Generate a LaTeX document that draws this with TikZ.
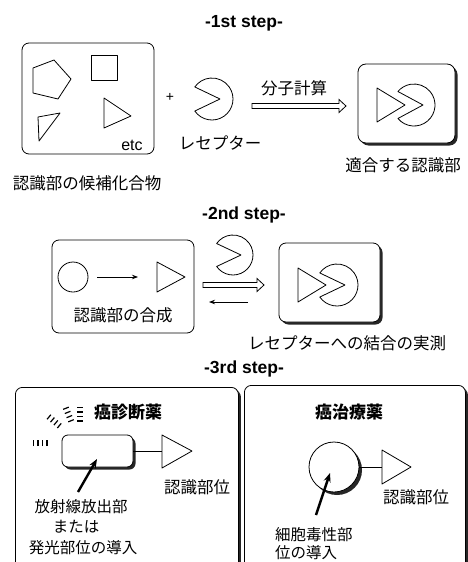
\documentclass[tikz,border=0pt]{standalone}
\usepackage{fontspec}
\setmainfont{Liberation Sans}
\newfontfamily\cjk{Noto Sans CJK JP}
\usetikzlibrary{calc,shadows,arrows.meta}

\tikzset{
 ol/.style={line width=0.8pt, line join=round},
 box/.style={draw, line width=0.8pt, rounded corners=7pt, fill=white, inner sep=0pt},
 sbox/.style={box, drop shadow={shadow xshift=2.5pt, shadow yshift=-2.5pt, fill=black, opacity=0.85}},
 ttl/.style={font=\fontsize{17.5}{17.5}\selectfont\bfseries, inner sep=0pt},
 jp/.style={font=\cjk\fontsize{16.5}{16.5}\selectfont, inner sep=0pt},
 jps/.style={font=\cjk\fontsize{15.5}{15.5}\selectfont, inner sep=0pt},
 jpb/.style={font=\cjk\bfseries\fontsize{17}{17}\selectfont, inner sep=0pt},
 thinarrow/.style={line width=0.8pt, -{Stealth[length=6pt,width=4.5pt]}},
 thickarrow/.style={line width=2.4pt, -{Stealth[length=9pt,width=7pt]}},
 hollow/.style={line width=0.8pt, line join=miter, fill=white},
 ray/.style={line width=1.2pt},
}

% pacman: center x, center y, radius, vertex offset, mouth angle
\newcommand\pacmanshape[5]{%
  \draw[ol, fill=white] (#1,#2) ++(#5:#3) arc[start angle=#5, end angle=-#5, radius=#3] -- (#1+#4,#2) -- cycle;}
\newcommand\hollowarrow[2]{%
  \draw[hollow] ($(#1)+(0,-2.5)$) -- ($(#2)+(-7,-2.5)$) -- ($(#2)+(-7,-6.5)$) -- (#2)
   -- ($(#2)+(-7,6.5)$) -- ($(#2)+(-7,2.5)$) -- ($(#1)+(0,2.5)$) -- cycle;}

\begin{document}
\begin{tikzpicture}[x=1pt,y=-1pt]
\clip (0,0) rectangle (468,562);
\fill[white] (0,0) rectangle (468,562);

%% ---------------- step 1
\node[ttl] (t1) at (244,23) {-1st step-};
\node[box, minimum width=132pt, minimum height=111pt] (cand) at (88,98.5) {};
\draw[ol] (33,68) -- (54,60) -- (71,79) -- (58,99) -- (33,93) -- cycle;
\draw[ol] (91,55) rectangle (117,80);
\draw[ol] (104,98) -- (131,116) -- (104,128) -- cycle;
\draw[ol] (38,117) -- (60,113) -- (39,141) -- cycle;
\node[font=\fontsize{16}{16}\selectfont, inner sep=0pt] (etc) at (132,145) {etc};
\node[font=\fontsize{14}{14}\selectfont, inner sep=0pt] (plus) at (170,97) {+};
\pacmanshape{212}{99}{21}{8}{145}
\node[jp] (rec1) at (220,143) {レセプター};
\node[jp] (candlbl) at (87,183) {認識部の候補化合物};
\node[jp] (calc1) at (294,88) {分子計算};
\coordinate (h1s) at (252,106);
\coordinate (h1e) at (346,106);
\hollowarrow{h1s}{h1e}
\node[sbox, rounded corners=8pt, minimum width=97pt, minimum height=79pt] (fit1) at (406.5,103.5) {};
\draw[ol] (377,88) -- (405,105) -- (377,122) -- cycle;
\pacmanshape{414}{105}{21}{9}{140}
\node[jp] (fitlbl) at (403,165) {適合する認識部};

%% ---------------- step 2
\node[ttl] (t2) at (244,215) {-2nd step-};
\node[box, minimum width=142pt, minimum height=93pt] (synth) at (123,286.5) {};
\node[draw, circle, ol, minimum size=30pt, inner sep=0pt] (c2) at (73,277) {};
\coordinate (tri2w) at (157,277);
\draw[ol] (157,262) -- (185,277) -- (157,292) -- cycle;
\draw[thinarrow, shorten <=9pt, shorten >=19pt] (c2.east) -- (tri2w);
\node[jp] (synthlbl) at (123,315) {認識部の合成};
\pacmanshape{233}{255}{20}{8}{145}
\coordinate (h2s) at (203,285);
\coordinate (h2e) at (264,285);
\hollowarrow{h2s}{h2e}
\coordinate (b2s) at (248,302);
\coordinate (b2e) at (209,302);
\draw[thinarrow] (b2s) -- (b2e);
\node[sbox, minimum width=101pt, minimum height=79pt] (meas) at (329.5,282.5) {};
\draw[ol] (298,268) -- (326,285) -- (298,302) -- cycle;
\pacmanshape{337}{285}{21}{8}{145}
\node[jp] (measlbl) at (347,343) {レセプターへの結合の実測};

%% ---------------- step 3
\node[ttl] (t3) at (244,369) {-3rd step-};
\node[sbox, anchor=north west, minimum width=223pt, minimum height=200pt] (diag) at (15,387) {};
\node[sbox, anchor=north west, minimum width=221pt, minimum height=200pt] (ther) at (244,385) {};

% diagnostic
\node[jpb] (diaglbl) at (128,412) {癌診断薬};
\foreach \ang/\a in {90/22, 112/24, 140/27, 180/33}{
  \foreach \k in {0,1,2,3}{
    \pgfmathsetmacro\dd{\a+\k*4.5}
    \draw[ray] ({80+\dd*cos(\ang)-3*sin(\ang)},{443-\dd*sin(\ang)-3*cos(\ang)})
            -- ({80+\dd*cos(\ang)+3*sin(\ang)},{443-\dd*sin(\ang)+3*cos(\ang)});
  }
}
\node[sbox, rounded corners=6pt, minimum width=71pt, minimum height=32pt] (emit) at (97.5,451) {};
\coordinate (tri3a) at (162,451);
\draw[ol] (emit.east) -- (tri3a);
\draw[ol] (162,435) -- (192,451) -- (162,468) -- cycle;
\node[jp] (site1) at (197,487) {認識部位};
\coordinate (a3t) at (78,492);
\coordinate (a3h) at (97,459);
\draw[thickarrow] (a3t) -- (a3h);
\node[jps] (l31) at (81,507) {放射線放出部};
\node[jps] (l32) at (76,527) {または};
\node[jps] (l33) at (83,548) {発光部位の導入};

% therapeutic
\node[jpb] (therlbl) at (349,412) {癌治療薬};
\node[draw, circle, ol, fill=white, minimum size=50pt, inner sep=0pt,
  drop shadow={shadow xshift=3pt, shadow yshift=-3pt, fill=black, opacity=0.85}] (cyto) at (334,467) {};
\coordinate (tri4a) at (382,467);
\draw[ol] (cyto.east) -- (tri4a);
\draw[ol] (382,450) -- (411,467) -- (382,484) -- cycle;
\node[jp] (site2) at (416,497) {認識部位};
\coordinate (a4t) at (316,515);
\coordinate (a4h) at (330,473);
\draw[thickarrow] (a4t) -- (a4h);
\node[jps, anchor=west] (l41) at (275,535) {細胞毒性部};
\node[jps, anchor=west] (l42) at (275,553) {位の導入};
\end{tikzpicture}
\end{document}
